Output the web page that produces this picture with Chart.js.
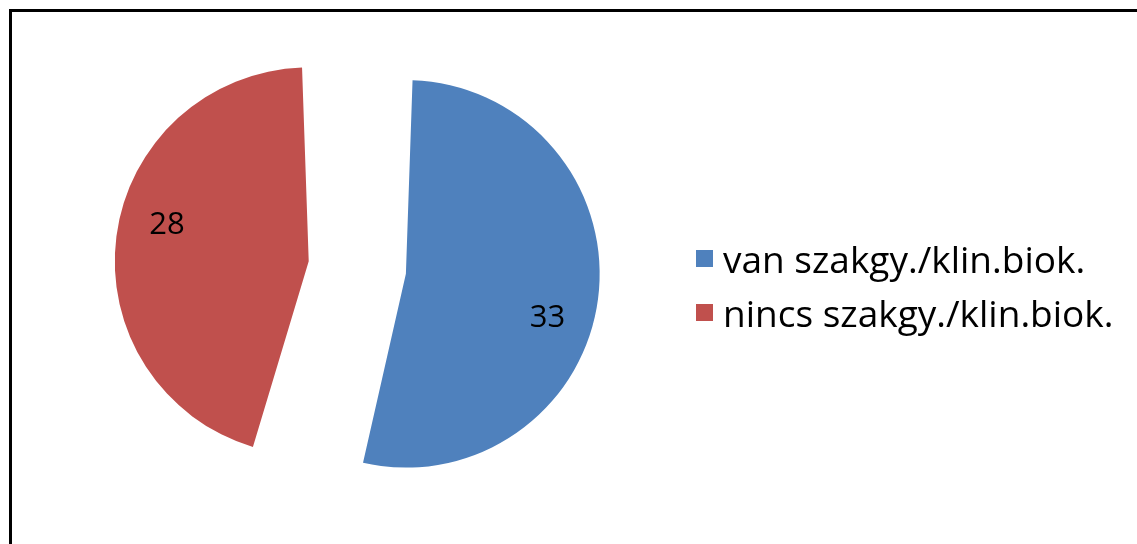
<!DOCTYPE html>
<html>
<head>
<meta charset="utf-8">
<script src="https://cdn.jsdelivr.net/npm/chart.js@4"></script>
<style>
  html, body { margin: 0; padding: 0; background: #fff; }
  body { width: 1137px; height: 544px; position: relative; overflow: hidden; font-family: 'Open Sans', sans-serif; }
  #frame {
    position: absolute; left: 9px; top: 9px; width: 1200px; height: 600px;
    border-left: 3px solid #000; border-top: 3px solid #000;
  }
  #chart { position: absolute; left: 0; top: 0; }
  #legend { position: absolute; left: 696px; top: 236px; margin: 0; padding: 0; list-style: none; }
  #legend li { display: flex; align-items: center; height: 44px; margin-bottom: 10px; font-size: 37px; color: #000; white-space: nowrap; }
  #legend .box { width: 17px; height: 17px; margin-right: 10px; flex: none; }
</style>
</head>
<body>
<div id="frame"></div>
<canvas id="chart" width="1137" height="544"></canvas>
<ul id="legend"></ul>
<script>
// ── Data ──────────────────────────────────────────────
const categories = [ 'van szakgy./klin.biok.', 'nincs szakgy./klin.biok.' ];
const values     = [ 33, 28 ];

// ── Palette / style ───────────────────────────────────
const sliceColors = [ '#4F81BD', '#C0504D' ];
const explode     = [ 167, 225 ];   // arc offset per slice (exploded pie)
const labelFont   = '31px "Open Sans", sans-serif';

// value labels inside slices
const sliceLabels = {
  id: 'sliceLabels',
  afterDatasetsDraw( chart ) {
    const { ctx } = chart;
    const meta = chart.getDatasetMeta( 0 );
    ctx.save();
    ctx.font = labelFont;
    ctx.fillStyle = '#000';
    ctx.textAlign = 'center';
    ctx.textBaseline = 'middle';
    meta.data.forEach( ( arc, i ) => {
      const mid = ( arc.startAngle + arc.endAngle ) / 2;
      const shift = ( arc.options.offset || 0 ) / 4;
      const fix = 1 - Math.sin( Math.min( Math.PI, arc.circumference ) );
      const cx = arc.x + Math.cos( mid ) * shift;
      const cy = arc.y + Math.sin( mid ) * shift;
      const r = ( arc.outerRadius + shift * fix ) * 0.76;
      const a = mid + 8.5 * Math.PI / 180;
      ctx.fillText( String( values[ i ] ), cx + Math.cos( a ) * r, cy + Math.sin( a ) * r + 4 );
    } );
    ctx.restore();
  },
};

new Chart( document.getElementById( 'chart' ), {
  type: 'pie',
  data: {
    labels: categories,
    datasets: [ {
      data            : values,
      backgroundColor : sliceColors,
      borderWidth     : 0,
      offset          : explode,
      hoverOffset     : 0,
    } ],
  },
  options: {
    responsive : false,
    animation  : false,
    radius     : 152,
    layout     : { padding: { left: 0, right: 408, top: 0, bottom: 7 } },
    plugins: {
      legend  : { display: false },
      tooltip : { enabled: false },
    },
  },
  plugins: [ sliceLabels ],
} );

// HTML legend
const legendEl = document.getElementById( 'legend' );
categories.forEach( ( c, i ) => {
  const li = document.createElement( 'li' );
  const box = document.createElement( 'span' );
  box.className = 'box';
  box.style.background = sliceColors[ i ];
  li.appendChild( box );
  li.appendChild( document.createTextNode( c ) );
  legendEl.appendChild( li );
} );
</script>
</body>
</html>
